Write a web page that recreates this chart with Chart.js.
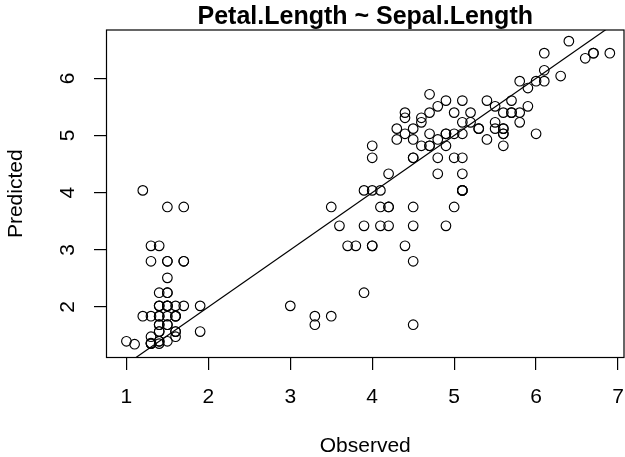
<!DOCTYPE html>
<html><head><meta charset="utf-8">
<script src="https://cdn.jsdelivr.net/npm/chart.js@4.4.1/dist/chart.umd.min.js"></script>
<style>html,body{margin:0;padding:0;background:#fff;overflow:hidden}canvas{display:block}</style>
</head><body>
<canvas id="c" width="625" height="457"></canvas>
<script>
const titleText = 'Petal.Length ~ Sepal.Length';
const xLabel = 'Observed';
const yLabel = 'Predicted';
const xTicks = [1, 2, 3, 4, 5, 6, 7];
const yTicks = [2, 3, 4, 5, 6];
const xRange = [0.757, 7.073];
const yRange = [1.117, 6.845];

const observed = [
  1.4,1.4,1.3,1.5,1.4,1.7,1.4,1.5,1.4,1.5, 1.5,1.6,1.4,1.1,1.2,1.5,1.3,1.4,1.7,1.5,
  1.7,1.5,1.0,1.7,1.9,1.6,1.6,1.5,1.4,1.6, 1.6,1.5,1.5,1.4,1.5,1.2,1.3,1.4,1.3,1.5,
  1.3,1.3,1.3,1.6,1.9,1.4,1.6,1.4,1.5,1.4,
  4.7,4.5,4.9,4.0,4.6,4.5,4.7,3.3,4.6,3.9, 3.5,4.2,4.0,4.7,3.6,4.4,4.5,4.1,4.5,3.9,
  4.8,4.0,4.9,4.7,4.3,4.4,4.8,5.0,4.5,3.5, 3.8,3.7,3.9,5.1,4.5,4.5,4.7,4.4,4.1,4.0,
  4.4,4.6,4.0,3.3,4.2,4.2,4.2,4.3,3.0,4.1,
  6.0,5.1,5.9,5.6,5.8,6.6,4.5,6.3,5.8,6.1, 5.1,5.3,5.5,5.0,5.1,5.3,5.5,6.7,6.9,5.0,
  5.7,4.9,6.7,4.9,5.7,6.0,4.8,4.9,5.6,5.8, 6.1,6.4,5.6,5.1,5.6,6.1,5.6,5.5,4.8,5.4,
  5.6,5.1,5.1,5.9,5.7,5.2,5.0,5.2,5.4,5.1
];
const predicted = [
  2.02,1.69,1.48,1.40,1.84,2.80,1.40,1.84,1.36,1.69, 2.80,1.57,1.57,1.35,4.04,3.75,2.80,2.02,3.75,2.02,
  2.80,2.02,1.40,2.02,1.57,1.84,1.84,2.25,2.25,1.48, 1.57,2.80,2.25,3.07,1.69,1.84,3.07,1.69,1.36,2.02,
  1.84,1.37,1.36,1.84,2.02,1.57,2.02,1.40,2.51,1.84,
  5.72,5.12,5.61,3.07,5.23,3.75,5.03,1.69,5.31,2.25, 1.84,4.33,4.61,4.82,3.42,5.40,3.42,4.04,4.93,3.42,
  4.33,4.82,5.03,4.82,5.12,5.31,5.51,5.40,4.61,3.75, 3.07,3.07,4.04,4.61,2.80,4.61,5.40,5.03,3.42,3.07,
  3.07,4.82,4.04,1.84,3.42,3.75,3.75,4.93,2.02,3.75,
  5.03,4.04,5.83,5.03,5.23,6.35,1.69,6.04,5.40,5.95, 5.23,5.12,5.51,3.75,4.04,5.12,5.23,6.44,6.44,4.61,
  5.61,3.42,6.44,5.03,5.40,5.95,4.93,4.82,5.12,5.95, 6.14,6.65,5.12,5.03,4.82,6.44,5.03,5.12,4.61,5.61,
  5.40,5.61,4.04,5.51,5.40,5.40,5.03,5.23,4.93,4.33
];
const refLine = { intercept: 0, slope: 1 };

const FONT = "'Liberation Sans', Arial, Helvetica, sans-serif";
Chart.defaults.color = '#000';
Chart.defaults.font.family = FONT;

const points = observed.map((o, i) => ({ x: o, y: predicted[i] }));
const lineData = [xRange[0], xRange[1]].map(x => ({ x: x, y: refLine.intercept + refLine.slope * x }));

const boxPlugin = {
  id: 'box',
  afterDraw(chart) {
    const { ctx, chartArea: a } = chart;
    ctx.save();
    ctx.strokeStyle = '#000';
    ctx.lineWidth = 1.2;
    ctx.strokeRect(a.left, a.top, a.right - a.left, a.bottom - a.top);
    ctx.restore();
  }
};

function noPad(s) {
  s.paddingLeft = 0; s.paddingRight = 0; s.paddingTop = 0; s.paddingBottom = 0;
}

new Chart(document.getElementById('c'), {
  type: 'scatter',
  data: {
    datasets: [
      {
        data: points,
        pointStyle: 'circle',
        pointRadius: 4.8,
        pointBorderWidth: 1.15,
        pointBorderColor: '#000',
        pointBackgroundColor: 'rgba(0,0,0,0)',
        showLine: false
      },
      {
        type: 'line',
        data: lineData,
        borderColor: '#000',
        borderWidth: 1.2,
        pointRadius: 0,
        fill: false,
        clip: 0
      }
    ]
  },
  options: {
    responsive: false,
    animation: false,
    events: [],
    layout: { autoPadding: false, padding: { top: 0, right: 1, bottom: 0, left: 0 } },
    plugins: {
      legend: { display: false },
      tooltip: { enabled: false },
      title: {
        display: true,
        text: titleText,
        fullSize: false,
        color: '#000',
        font: { family: FONT, size: 25, weight: 'bold', lineHeight: 1.0 },
        padding: { top: 4.5, bottom: 0.5 }
      }
    },
    scales: {
      x: {
        type: 'linear',
        position: 'bottom',
        min: xRange[0],
        max: xRange[1],
        afterBuildTicks: s => { s.ticks = xTicks.map(v => ({ value: v })); },
        afterFit: s => { s.height = 99.5; noPad(s); },
        grid: { drawOnChartArea: false, drawTicks: true, tickLength: 12.5, color: '#000', lineWidth: 1.2 },
        border: { display: false },
        ticks: { font: { family: FONT, size: 21 }, color: '#000', padding: 14.5, maxRotation: 0, autoSkip: false,
                 callback: v => String(v) },
        title: { display: true, text: xLabel, color: '#000', font: { family: FONT, size: 21, lineHeight: 1.0 }, padding: { top: 0, bottom: 0.5 } }
      },
      y: {
        type: 'linear',
        position: 'left',
        min: yRange[0],
        max: yRange[1],
        afterBuildTicks: s => { s.ticks = yTicks.map(v => ({ value: v })); },
        afterFit: s => { s.width = 106.5; noPad(s); },
        grid: { drawOnChartArea: false, drawTicks: true, tickLength: 12.5, color: '#000', lineWidth: 1.2 },
        border: { display: false },
        ticks: { font: { family: FONT, size: 21 }, color: '#000', padding: 19.5, minRotation: 90, maxRotation: 90,
                 crossAlign: 'center', autoSkip: false, callback: v => String(v) },
        title: { display: true, text: yLabel, color: '#000', font: { family: FONT, size: 21, lineHeight: 1.2 }, padding: { top: 3.4, bottom: 0 } }
      }
    }
  },
  plugins: [boxPlugin]
});
</script>
</body></html>
